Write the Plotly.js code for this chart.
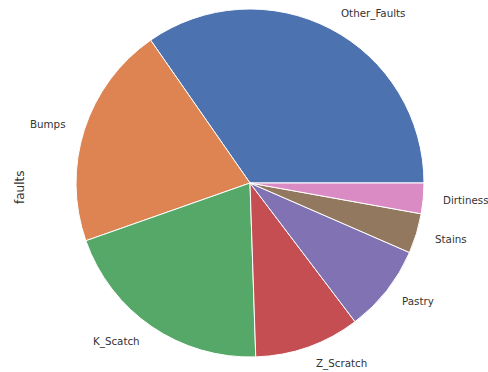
<!DOCTYPE html>
<html><head><meta charset="utf-8">
<script src="https://cdn.plot.ly/plotly-3.0.1.min.js"></script>
<style>html,body{margin:0;padding:0;background:#fff}</style>
</head><body>
<div id="chart" style="width:488px;height:372px"></div>
<script>
const categories = ["Other_Faults","Bumps","K_Scatch","Z_Scratch","Pastry","Stains","Dirtiness"];
const counts = [673, 402, 391, 190, 158, 72, 55];
const colors = ["#4C72B0","#DD8452","#55A868","#C44E52","#8172B3","#937860","#DA8BC3"];
const yLabel = "faults";

const W = 488, H = 372, cx = 250, cy = 183, R = 174;
const total = counts.reduce((a,b)=>a+b,0);
let start = 0;
const annotations = [];
categories.forEach((c,i)=>{
  const frac = counts[i]/total;
  const mid = (start + frac/2) * 2 * Math.PI;
  start += frac;
  const px = cx + 1.1*R*Math.cos(mid);
  const py = cy - 1.1*R*Math.sin(mid);
  annotations.push({
    text: c, xref:'paper', yref:'paper', x: Math.min(px, 441)/W, y: 1 - py/H,
    xanchor: Math.cos(mid) >= 0 ? 'left' : 'right', yanchor:'middle',
    showarrow:false, font:{family:'DejaVu Sans', size:10.3, color:'#333'}
  });
});
annotations.push({text:yLabel, xref:'paper', yref:'paper', x:20/W, y:1-188/H,
  xanchor:'center', yanchor:'middle', textangle:-90, showarrow:false,
  font:{family:'DejaVu Sans', size:12, color:'#333'}});

Plotly.newPlot('chart', [{
  type:'pie', labels:categories, values:counts, sort:false,
  direction:'counterclockwise', rotation: 90 - 360*counts[0]/total,
  marker:{colors:colors, line:{color:'#ffffff', width:1}},
  textinfo:'none', hoverinfo:'label+value',
  domain:{x:[(cx-R)/W,(cx+R)/W], y:[(H-cy-R)/H,(H-cy+R)/H]}
}], {
  width:W, height:H, margin:{l:0,r:0,t:0,b:0},
  showlegend:false, paper_bgcolor:'#fff', annotations:annotations
}, {staticPlot:true});
</script>
</body></html>
